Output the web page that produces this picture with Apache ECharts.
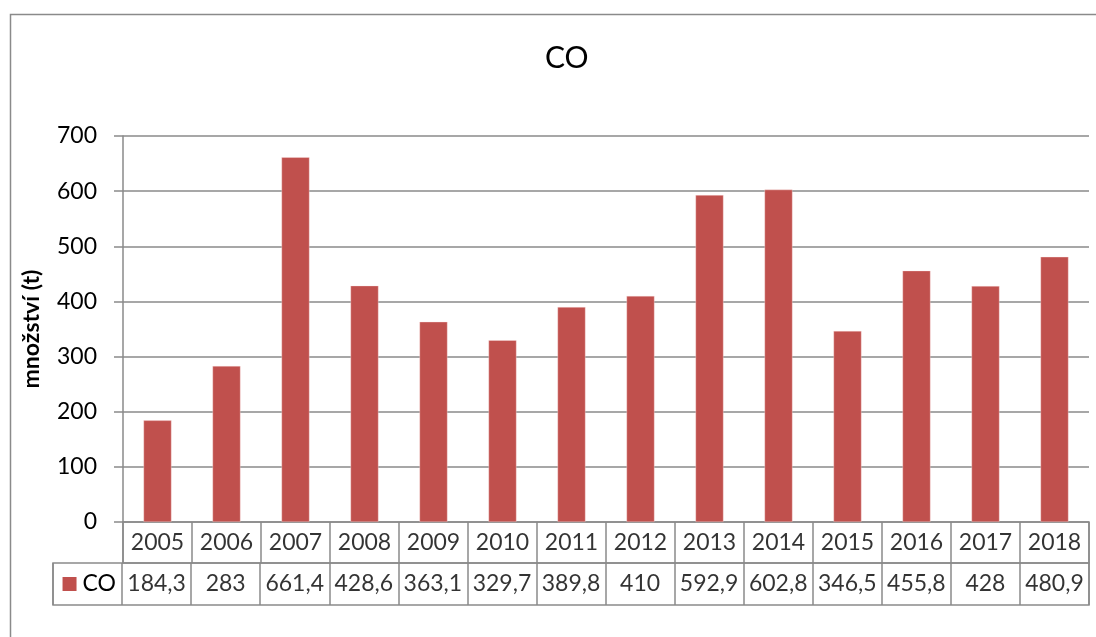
<!DOCTYPE html>
<html>
<head>
<meta charset="utf-8">
<script src="https://cdn.jsdelivr.net/npm/echarts@6/dist/echarts.min.js"></script>
<style>html,body{margin:0;padding:0;background:#fff}#c{width:1096px;height:637px}</style>
</head>
<body>
<div id="c"></div>
<script>
const years = ['2005','2006','2007','2008','2009','2010','2011','2012','2013','2014','2015','2016','2017','2018'];
const coValues = [184.3, 283, 661.4, 428.6, 363.1, 329.7, 389.8, 410, 592.9, 602.8, 346.5, 455.8, 428, 480.9];
const seriesName = 'CO';
const yTicks = [0, 100, 200, 300, 400, 500, 600, 700];

const FONT = 'Lato';
const GRAY = '#8a8a8a';
const RED = '#C0504D';
const fmt = v => String(v).replace('.', ',');

const chart = echarts.init(document.getElementById('c'));
const keyCat = '__key__';
const rowCats = [keyCat].concat(years);

chart.setOption({
  animation: false,
  backgroundColor: '#fff',
  textStyle: { fontFamily: FONT },
  title: {
    text: 'CO', left: 540, top: 38,
    textStyle: { fontFamily: FONT, fontSize: 30, fontWeight: 'normal', color: '#000' }
  },
  graphic: [{
    type: 'rect', left: 8, top: 12, silent: true,
    shape: { width: 1110, height: 660 },
    style: { fill: 'none', stroke: GRAY, lineWidth: 1.5 }
  }],
  grid: [
    { left: 123, right: 7, top: 136, bottom: 115 },
    { left: 123, right: 7, top: 522, height: 41, show: true, borderColor: GRAY, borderWidth: 1.5 },
    { left: 53, right: 7, top: 563, height: 42, show: true, borderColor: GRAY, borderWidth: 1.5 }
  ],
  xAxis: [
    { gridIndex: 0, type: 'category', data: years, axisLine: { show: false }, axisTick: { show: false }, axisLabel: { show: false } },
    { gridIndex: 1, type: 'category', data: years, axisLine: { show: false }, axisTick: { show: false }, axisLabel: { show: false },
      splitLine: { show: true, interval: 0, lineStyle: { color: GRAY, width: 1.5 } } },
    { gridIndex: 2, type: 'category', data: rowCats, axisLine: { show: false }, axisTick: { show: false }, axisLabel: { show: false },
      splitLine: { show: true, interval: 0, lineStyle: { color: GRAY, width: 1.5 } } }
  ],
  yAxis: [
    { gridIndex: 0, type: 'value', min: yTicks[0], max: yTicks[yTicks.length - 1], interval: 100,
      name: 'množství (t)', nameLocation: 'middle', nameGap: 80, nameRotate: 90,
      nameTextStyle: { fontFamily: FONT, fontSize: 23, fontWeight: 'bold', color: '#000' },
      axisLine: { show: true, lineStyle: { color: GRAY, width: 1.5 } },
      axisTick: { show: true, length: 9, lineStyle: { color: GRAY, width: 1.5 } },
      axisLabel: { fontFamily: FONT, fontSize: 23, color: '#000', margin: 26 },
      splitLine: { show: true, lineStyle: { color: GRAY, width: 1.5 } } },
    { gridIndex: 1, type: 'value', min: 0, max: 1, show: false },
    { gridIndex: 2, type: 'value', min: 0, max: 1, show: false }
  ],
  series: [
    { type: 'bar', name: seriesName, xAxisIndex: 0, yAxisIndex: 0, data: coValues, barWidth: 28,
      itemStyle: { color: RED, borderColor: 'rgba(255,230,230,0.7)', borderWidth: 0.5 } },
    { type: 'scatter', xAxisIndex: 1, yAxisIndex: 1, symbolSize: 0, silent: true,
      data: years.map(y => [y, 0.5]),
      label: { show: true, position: 'inside', formatter: p => p.value[0], fontFamily: FONT, fontSize: 23, color: '#000' } },
    { type: 'scatter', xAxisIndex: 2, yAxisIndex: 2, symbolSize: 0, silent: true,
      data: years.map((y, i) => [y, 0.5, coValues[i]]),
      label: { show: true, position: 'inside', formatter: p => fmt(p.value[2]), fontFamily: FONT, fontSize: 23, color: '#000' } },
    { type: 'scatter', xAxisIndex: 2, yAxisIndex: 2, symbol: 'rect', symbolSize: 14, symbolOffset: [-18, 0], silent: true,
      itemStyle: { color: RED, opacity: 1 },
      data: [[keyCat, 0.5]],
      label: { show: true, position: 'right', distance: 6, formatter: seriesName, fontFamily: FONT, fontSize: 23, color: '#000' } }
  ]
});
</script>
</body>
</html>
